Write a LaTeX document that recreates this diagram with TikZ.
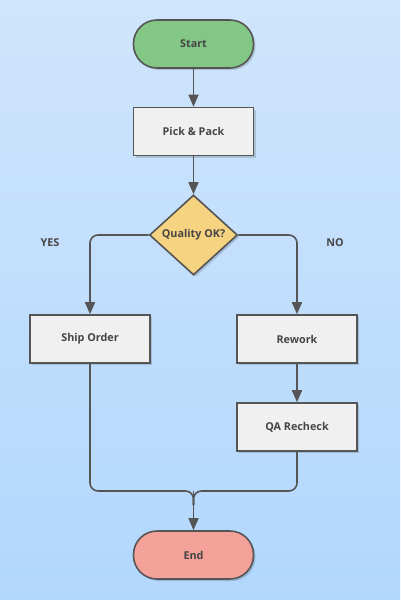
\documentclass[tikz,border=0pt]{standalone}
\usepackage{fontspec}
\setmainfont{Open Sans}
\usetikzlibrary{arrows.meta,shapes.geometric,shadows}
\definecolor{bgtop}{HTML}{CFE5FB}
\definecolor{bgbot}{HTML}{B2D7FD}
\definecolor{edgec}{HTML}{555555}
\definecolor{txtc}{HTML}{454545}
\definecolor{boxfill}{HTML}{F0F0F0}
\definecolor{startfill}{HTML}{82C785}
\definecolor{endfill}{HTML}{F4A19A}
\definecolor{decfill}{HTML}{F6D380}
\tikzset{
  base/.style={draw=edgec, line width=1.6pt, text=txtc, font=\fontsize{10.8}{12}\selectfont\bfseries,
    drop shadow={shadow xshift=2pt, shadow yshift=-2pt, opacity=0.15, fill=black}},
  terminal/.style={base, rectangle, rounded corners=23.5pt, minimum width=120pt, minimum height=48pt, inner sep=0pt},
  procbox/.style={base, rectangle, fill=boxfill, minimum width=120pt, minimum height=48pt, inner sep=0pt},
  decision/.style={base, diamond, fill=decfill, minimum width=88pt, minimum height=80pt, inner sep=0pt, aspect=1.1},
  conn/.style={draw=edgec, line width=1.6pt, -{Triangle[length=12pt,width=10pt]}, rounded corners=8pt},
  plainconn/.style={draw=edgec, line width=1.6pt, rounded corners=8pt},
  lbl/.style={text=txtc, font=\fontsize{10.8}{12}\selectfont\bfseries}
}
\begin{document}
\begin{tikzpicture}[x=1pt,y=-1pt]
\useasboundingbox (0,0) rectangle (400,600);
\shade[top color=bgtop, bottom color=bgbot] (0,0) rectangle (400,600);
\node[terminal, fill=startfill] (start) at (193.5,44) {Start};
\node[procbox] (pick) at (193.5,131.5) {Pick \& Pack};
\node[decision] (dec) at (193.5,235) {Quality OK?};
\node[procbox] (ship) at (90,339) {Ship Order};
\node[procbox] (rework) at (297,339) {Rework};
\node[procbox] (qa) at (297,427) {QA Recheck};
\node[terminal, fill=endfill] (end) at (193.5,555) {End};
\coordinate (merge) at (193.5,491);
\coordinate (mergelow) at (193.5,505);
\node[lbl] (yes) at (50,243) {YES};
\node[lbl] (no) at (335,243) {NO};
\draw[conn] (start) -- (pick);
\draw[conn] (pick) -- (dec);
\draw[conn] (dec.west) -| (ship.north);
\draw[conn] (dec.east) -| (rework.north);
\draw[conn] (rework) -- (qa);
\draw[plainconn] (ship.south) |- (merge) -- (mergelow);
\draw[plainconn] (qa.south) |- (merge) -- (mergelow);
\draw[conn] (merge) -- (end.north);
\end{tikzpicture}
\end{document}
